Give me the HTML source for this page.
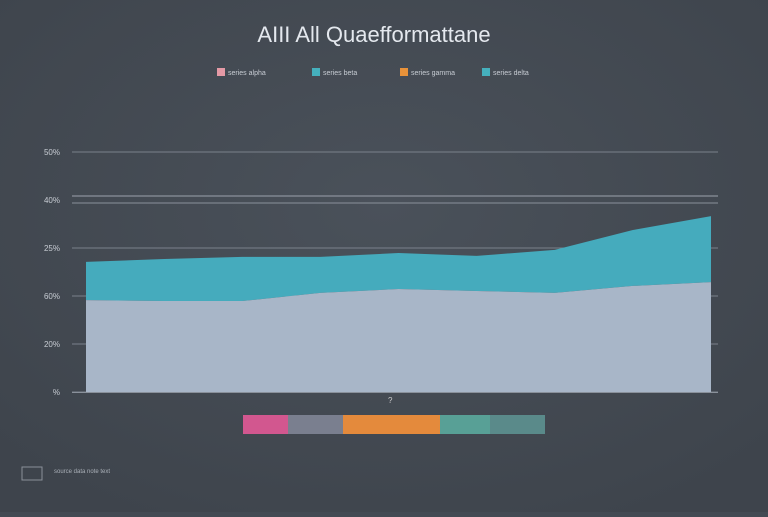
<!DOCTYPE html>
<html><head><meta charset="utf-8"><style>
body{margin:0;width:768px;height:512px;background:#434a53;overflow:hidden;font-family:"Liberation Sans",sans-serif}
</style></head><body>
<svg id="c" width="768" height="512">
<defs><radialGradient id="bg" cx="50%" cy="40%" r="70%"><stop offset="0" stop-color="#4a515a"/><stop offset="1" stop-color="#3e444c"/></radialGradient></defs>
<rect width="768" height="512" fill="url(#bg)"/>
<text x="374" y="42" text-anchor="middle" font-size="22" fill="#e4e8ee">AIII  All Quaefformattane</text>
<g id="legend"></g>
<g id="grid"></g>
<g id="areas"></g>
<text x="388" y="403" font-size="8" fill="#ccc">?</text>
<g id="bar"></g>
<rect x="22" y="467" width="20" height="13" fill="none" stroke="#8a9099"/>
<text x="54" y="473" font-size="6" fill="#aab0b8">source data note text</text>
</svg>
<script>
const categories=["c1","c2","c3","c4","c5","c6","c7","c8","c9"];
const baseSeries=[38.3,37.9,37.9,41.3,42.9,42.1,41.3,44.2,45.8];
const topSeries=[15.9,17.5,18.4,15.0,15.0,14.6,17.9,23.3,27.5];
const yTicks=[0,20,40,60,100];
const yTickLabels=["%","20%","60%","25%","50%"];
const legendLabels=["series alpha","series beta","series gamma","series delta"];
const legendColors=["#e59aa6","#45b0bd","#e8923a","#45b0bd"];
const NS="http://www.w3.org/2000/svg";
const x0=86,x1=711,yb=392,yt=152;
const xs=i=>x0+(x1-x0)*i/(categories.length-1);
const ys=v=>yb-(yb-yt)*v/100;
function mk(t,a,p){const e=document.createElementNS(NS,t);for(const k in a)e.setAttribute(k,a[k]);p.appendChild(e);return e;}
const g=document.getElementById('grid');
yTicks.forEach((v,i)=>{
 const l=mk('line',{x1:72,x2:718,y1:ys(v),y2:ys(v),stroke:'#7a818b','stroke-width':1},g);
 
 
 const t=mk('text',{x:60,y:ys(v)+3,'text-anchor':'end','font-size':8,fill:'#c8cdd4'},g);
 t.textContent=yTickLabels[i];
 
 
});
const l1=mk('line',{x1:72,x2:718,y1:ys(80)-4,y2:ys(80)-4,stroke:'#8a919b','stroke-width':1.3},g);


const l2=mk('line',{x1:72,x2:718,y1:ys(80)+3,y2:ys(80)+3,stroke:'#8a919b','stroke-width':1},g);


const t80=mk('text',{x:60,y:ys(80)+3,'text-anchor':'end','font-size':8,fill:'#c8cdd4'},g);
t80.textContent="40%";


const areasG=document.getElementById('areas');
let topPath="",basePath="";
categories.forEach((c,i)=>{topPath+=(i?"L":"M")+xs(i)+","+ys(baseSeries[i]+topSeries[i]);});
for(let i=categories.length-1;i>=0;i--)topPath+="L"+xs(i)+","+ys(baseSeries[i]);
categories.forEach((c,i)=>{basePath+=(i?"L":"M")+xs(i)+","+ys(baseSeries[i]);});
basePath+="L"+x1+","+yb+"L"+x0+","+yb+"Z";
const p1=mk('path',{d:topPath+"Z",fill:'#45abbd'},areasG);


const p2=mk('path',{d:basePath,fill:'#a8b6c8'},areasG);


const ax=mk('line',{x1:72,x2:718,y1:yb+0.5,y2:yb+0.5,stroke:'#8a919b'},areasG);


const lg=document.getElementById('legend');
const lx=[217,312,400,482];
legendLabels.forEach((s,i)=>{
 const r=mk('rect',{x:lx[i],y:68,width:8,height:8,fill:legendColors[i]},lg);
 
 
 const t=mk('text',{x:lx[i]+11,y:75,'font-size':7,fill:'#c8cdd4'},lg);
 t.textContent=s;
 
 
});
const barG=document.getElementById('bar');
const segs=[[243,45,'#d2578f'],[288,55,'#7a7f8f'],[343,97,'#e48a3c'],[440,50,'#58a096'],[490,55,'#5a8a8a']];
segs.forEach(s=>{
 const r=mk('rect',{x:s[0],y:415,width:s[1],height:19,fill:s[2]},barG);
 
 
});
</script>
</body></html>
